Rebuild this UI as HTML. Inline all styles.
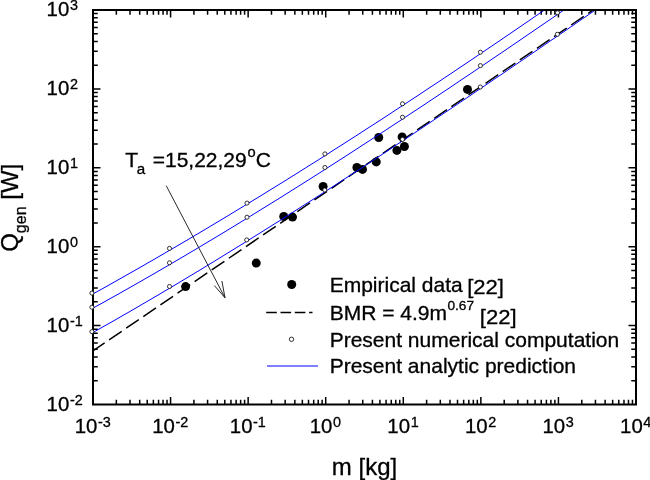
<!DOCTYPE html>
<html><head><meta charset="utf-8"><title>Q_gen vs m</title>
<style>html,body{margin:0;padding:0;background:#fff}svg{display:block;will-change:transform}text{font-family:"Liberation Sans",Arial,sans-serif;fill:#000;stroke:#000;stroke-width:0.3px}</style>
</head><body>
<svg width="650" height="480" viewBox="0 0 650 480">
<rect width="650" height="480" fill="#fff"/>
<defs><clipPath id="c"><rect x="93.00" y="10.00" width="543.00" height="394.50"/></clipPath></defs>
<path d="M116.35 404.50v-4.75M116.35 10.00v4.75M130.01 404.50v-4.75M130.01 10.00v4.75M139.70 404.50v-4.75M139.70 10.00v4.75M147.22 404.50v-4.75M147.22 10.00v4.75M153.36 404.50v-4.75M153.36 10.00v4.75M158.56 404.50v-4.75M158.56 10.00v4.75M163.05 404.50v-4.75M163.05 10.00v4.75M167.02 404.50v-4.75M167.02 10.00v4.75M170.57 404.50v-7.50M170.57 10.00v7.50M193.92 404.50v-4.75M193.92 10.00v4.75M207.58 404.50v-4.75M207.58 10.00v4.75M217.27 404.50v-4.75M217.27 10.00v4.75M224.79 404.50v-4.75M224.79 10.00v4.75M230.93 404.50v-4.75M230.93 10.00v4.75M236.13 404.50v-4.75M236.13 10.00v4.75M240.63 404.50v-4.75M240.63 10.00v4.75M244.59 404.50v-4.75M244.59 10.00v4.75M248.14 404.50v-7.50M248.14 10.00v7.50M271.49 404.50v-4.75M271.49 10.00v4.75M285.15 404.50v-4.75M285.15 10.00v4.75M294.85 404.50v-4.75M294.85 10.00v4.75M302.36 404.50v-4.75M302.36 10.00v4.75M308.51 404.50v-4.75M308.51 10.00v4.75M313.70 404.50v-4.75M313.70 10.00v4.75M318.20 404.50v-4.75M318.20 10.00v4.75M322.16 404.50v-4.75M322.16 10.00v4.75M325.71 404.50v-7.50M325.71 10.00v7.50M349.07 404.50v-4.75M349.07 10.00v4.75M362.73 404.50v-4.75M362.73 10.00v4.75M372.42 404.50v-4.75M372.42 10.00v4.75M379.93 404.50v-4.75M379.93 10.00v4.75M386.08 404.50v-4.75M386.08 10.00v4.75M391.27 404.50v-4.75M391.27 10.00v4.75M395.77 404.50v-4.75M395.77 10.00v4.75M399.74 404.50v-4.75M399.74 10.00v4.75M403.29 404.50v-7.50M403.29 10.00v7.50M426.64 404.50v-4.75M426.64 10.00v4.75M440.30 404.50v-4.75M440.30 10.00v4.75M449.99 404.50v-4.75M449.99 10.00v4.75M457.51 404.50v-4.75M457.51 10.00v4.75M463.65 404.50v-4.75M463.65 10.00v4.75M468.84 404.50v-4.75M468.84 10.00v4.75M473.34 404.50v-4.75M473.34 10.00v4.75M477.31 404.50v-4.75M477.31 10.00v4.75M480.86 404.50v-7.50M480.86 10.00v7.50M504.21 404.50v-4.75M504.21 10.00v4.75M517.87 404.50v-4.75M517.87 10.00v4.75M527.56 404.50v-4.75M527.56 10.00v4.75M535.08 404.50v-4.75M535.08 10.00v4.75M541.22 404.50v-4.75M541.22 10.00v4.75M546.41 404.50v-4.75M546.41 10.00v4.75M550.91 404.50v-4.75M550.91 10.00v4.75M554.88 404.50v-4.75M554.88 10.00v4.75M558.43 404.50v-7.50M558.43 10.00v7.50M581.78 404.50v-4.75M581.78 10.00v4.75M595.44 404.50v-4.75M595.44 10.00v4.75M605.13 404.50v-4.75M605.13 10.00v4.75M612.65 404.50v-4.75M612.65 10.00v4.75M618.79 404.50v-4.75M618.79 10.00v4.75M623.98 404.50v-4.75M623.98 10.00v4.75M628.48 404.50v-4.75M628.48 10.00v4.75M632.45 404.50v-4.75M632.45 10.00v4.75M93.00 380.75h4.75M636.00 380.75h-4.75M93.00 366.86h4.75M636.00 366.86h-4.75M93.00 357.00h4.75M636.00 357.00h-4.75M93.00 349.35h4.75M636.00 349.35h-4.75M93.00 343.10h4.75M636.00 343.10h-4.75M93.00 337.82h4.75M636.00 337.82h-4.75M93.00 333.25h4.75M636.00 333.25h-4.75M93.00 329.21h4.75M636.00 329.21h-4.75M93.00 325.60h7.50M636.00 325.60h-7.50M93.00 301.85h4.75M636.00 301.85h-4.75M93.00 287.96h4.75M636.00 287.96h-4.75M93.00 278.10h4.75M636.00 278.10h-4.75M93.00 270.45h4.75M636.00 270.45h-4.75M93.00 264.20h4.75M636.00 264.20h-4.75M93.00 258.92h4.75M636.00 258.92h-4.75M93.00 254.35h4.75M636.00 254.35h-4.75M93.00 250.31h4.75M636.00 250.31h-4.75M93.00 246.70h7.50M636.00 246.70h-7.50M93.00 222.95h4.75M636.00 222.95h-4.75M93.00 209.06h4.75M636.00 209.06h-4.75M93.00 199.20h4.75M636.00 199.20h-4.75M93.00 191.55h4.75M636.00 191.55h-4.75M93.00 185.30h4.75M636.00 185.30h-4.75M93.00 180.02h4.75M636.00 180.02h-4.75M93.00 175.45h4.75M636.00 175.45h-4.75M93.00 171.41h4.75M636.00 171.41h-4.75M93.00 167.80h7.50M636.00 167.80h-7.50M93.00 144.05h4.75M636.00 144.05h-4.75M93.00 130.16h4.75M636.00 130.16h-4.75M93.00 120.30h4.75M636.00 120.30h-4.75M93.00 112.65h4.75M636.00 112.65h-4.75M93.00 106.40h4.75M636.00 106.40h-4.75M93.00 101.12h4.75M636.00 101.12h-4.75M93.00 96.55h4.75M636.00 96.55h-4.75M93.00 92.51h4.75M636.00 92.51h-4.75M93.00 88.90h7.50M636.00 88.90h-7.50M93.00 65.15h4.75M636.00 65.15h-4.75M93.00 51.26h4.75M636.00 51.26h-4.75M93.00 41.40h4.75M636.00 41.40h-4.75M93.00 33.75h4.75M636.00 33.75h-4.75M93.00 27.50h4.75M636.00 27.50h-4.75M93.00 22.22h4.75M636.00 22.22h-4.75M93.00 17.65h4.75M636.00 17.65h-4.75M93.00 13.61h4.75M636.00 13.61h-4.75" stroke="#000" stroke-width="1.50" fill="none"/>
<g clip-path="url(#c)">
<line x1="93.00" y1="350.83" x2="598.14" y2="6.60" stroke="#000" stroke-width="1.5" stroke-dasharray="15.3 5.41" stroke-dashoffset="1.27"/>
<circle cx="185.60" cy="286.60" r="4.5" fill="#000"/>
<circle cx="256.25" cy="263.10" r="4.5" fill="#000"/>
<circle cx="283.75" cy="216.50" r="4.5" fill="#000"/>
<circle cx="292.50" cy="217.10" r="4.5" fill="#000"/>
<circle cx="323.10" cy="186.50" r="4.5" fill="#000"/>
<circle cx="356.90" cy="167.50" r="4.5" fill="#000"/>
<circle cx="362.50" cy="169.40" r="4.5" fill="#000"/>
<circle cx="376.25" cy="161.90" r="4.5" fill="#000"/>
<circle cx="378.75" cy="137.50" r="4.5" fill="#000"/>
<circle cx="396.90" cy="150.40" r="4.5" fill="#000"/>
<circle cx="404.40" cy="146.50" r="4.5" fill="#000"/>
<circle cx="402.10" cy="136.90" r="4.5" fill="#000"/>
<circle cx="467.50" cy="89.40" r="4.5" fill="#000"/>
<polyline points="93.0,293.9 99.0,290.6 105.0,287.3 111.0,283.9 117.0,280.5 123.0,277.1 129.0,273.7 135.0,270.3 141.0,266.9 147.0,263.4 153.0,260.0 159.0,256.5 165.0,253.0 171.0,249.5 177.0,246.0 183.0,242.5 189.0,239.0 195.0,235.4 201.0,231.9 207.0,228.3 213.0,224.7 219.0,221.1 225.0,217.5 231.0,213.9 237.0,210.2 243.0,206.6 249.0,202.9 255.0,199.3 261.0,195.6 267.0,191.9 273.0,188.2 279.0,184.5 285.0,180.8 291.0,177.0 297.0,173.3 303.0,169.5 309.0,165.7 315.0,162.0 321.0,158.2 327.0,154.4 333.0,150.5 339.0,146.7 345.0,142.9 351.0,139.0 357.0,135.2 363.0,131.3 369.0,127.4 375.0,123.6 381.0,119.7 387.0,115.8 393.0,111.8 399.0,107.9 405.0,104.0 411.0,100.0 417.0,96.1 423.0,92.1 429.0,88.1 435.0,84.2 441.0,80.2 447.0,76.2 453.0,72.2 459.0,68.1 465.0,64.1 471.0,60.1 477.0,56.0 483.0,52.0 489.0,47.9 495.0,43.9 501.0,39.8 507.0,35.7 513.0,31.6 519.0,27.5 525.0,23.4 531.0,19.3 537.0,15.1 543.0,11.0 549.0,6.9" fill="none" stroke="#0000ff" stroke-width="1"/>
<polyline points="93.0,308.1 99.0,304.8 105.0,301.5 111.0,298.1 117.0,294.8 123.0,291.4 129.0,288.0 135.0,284.6 141.0,281.2 147.0,277.7 153.0,274.3 159.0,270.8 165.0,267.3 171.0,263.8 177.0,260.3 183.0,256.8 189.0,253.2 195.0,249.7 201.0,246.1 207.0,242.5 213.0,238.9 219.0,235.3 225.0,231.7 231.0,228.0 237.0,224.4 243.0,220.7 249.0,217.0 255.0,213.3 261.0,209.6 267.0,205.9 273.0,202.2 279.0,198.5 285.0,194.7 291.0,190.9 297.0,187.2 303.0,183.4 309.0,179.6 315.0,175.8 321.0,172.0 327.0,168.1 333.0,164.3 339.0,160.4 345.0,156.6 351.0,152.7 357.0,148.8 363.0,144.9 369.0,141.0 375.0,137.1 381.0,133.2 387.0,129.3 393.0,125.3 399.0,121.4 405.0,117.4 411.0,113.4 417.0,109.5 423.0,105.5 429.0,101.5 435.0,97.5 441.0,93.5 447.0,89.5 453.0,85.5 459.0,81.4 465.0,77.4 471.0,73.4 477.0,69.3 483.0,65.3 489.0,61.2 495.0,57.1 501.0,53.1 507.0,49.0 513.0,44.9 519.0,40.8 525.0,36.7 531.0,32.6 537.0,28.5 543.0,24.4 549.0,20.3 555.0,16.2 561.0,12.0 567.0,7.9 573.0,3.8" fill="none" stroke="#0000ff" stroke-width="1"/>
<polyline points="93.0,332.5 99.0,329.1 105.0,325.7 111.0,322.3 117.0,318.9 123.0,315.4 129.0,312.0 135.0,308.5 141.0,305.0 147.0,301.5 153.0,298.0 159.0,294.5 165.0,290.9 171.0,287.4 177.0,283.8 183.0,280.2 189.0,276.6 195.0,273.0 201.0,269.4 207.0,265.7 213.0,262.1 219.0,258.4 225.0,254.7 231.0,251.0 237.0,247.3 243.0,243.6 249.0,239.9 255.0,236.1 261.0,232.4 267.0,228.6 273.0,224.8 279.0,221.1 285.0,217.3 291.0,213.4 297.0,209.6 303.0,205.8 309.0,202.0 315.0,198.1 321.0,194.3 327.0,190.4 333.0,186.5 339.0,182.6 345.0,178.7 351.0,174.8 357.0,170.9 363.0,167.0 369.0,163.0 375.0,159.1 381.0,155.1 387.0,151.2 393.0,147.2 399.0,143.2 405.0,139.3 411.0,135.3 417.0,131.3 423.0,127.3 429.0,123.3 435.0,119.2 441.0,115.2 447.0,111.2 453.0,107.2 459.0,103.1 465.0,99.1 471.0,95.0 477.0,90.9 483.0,86.9 489.0,82.8 495.0,78.7 501.0,74.7 507.0,70.6 513.0,66.5 519.0,62.4 525.0,58.3 531.0,54.2 537.0,50.1 543.0,46.0 549.0,41.8 555.0,37.7 561.0,33.6 567.0,29.5 573.0,25.4 579.0,21.2 585.0,17.1 591.0,13.0 597.0,8.8 603.0,4.7" fill="none" stroke="#0000ff" stroke-width="1"/>
</g>
<rect x="93.00" y="10.00" width="543.00" height="394.50" fill="none" stroke="#000" stroke-width="2"/>
<circle cx="91.9" cy="293.1" r="2.05" fill="#fff" stroke="#111" stroke-width="0.85"/>
<circle cx="169.5" cy="248.4" r="2.05" fill="#fff" stroke="#111" stroke-width="0.85"/>
<circle cx="247.0" cy="203.1" r="2.05" fill="#fff" stroke="#111" stroke-width="0.85"/>
<circle cx="324.9" cy="153.9" r="2.05" fill="#fff" stroke="#111" stroke-width="0.85"/>
<circle cx="402.5" cy="103.8" r="2.05" fill="#fff" stroke="#111" stroke-width="0.85"/>
<circle cx="480.4" cy="52.2" r="2.05" fill="#fff" stroke="#111" stroke-width="0.85"/>
<circle cx="91.9" cy="307.2" r="2.05" fill="#fff" stroke="#111" stroke-width="0.85"/>
<circle cx="169.5" cy="262.8" r="2.05" fill="#fff" stroke="#111" stroke-width="0.85"/>
<circle cx="247.0" cy="217.2" r="2.05" fill="#fff" stroke="#111" stroke-width="0.85"/>
<circle cx="324.9" cy="167.5" r="2.05" fill="#fff" stroke="#111" stroke-width="0.85"/>
<circle cx="402.5" cy="117.2" r="2.05" fill="#fff" stroke="#111" stroke-width="0.85"/>
<circle cx="480.4" cy="65.6" r="2.05" fill="#fff" stroke="#111" stroke-width="0.85"/>
<circle cx="557.5" cy="12.7" r="2.05" fill="#fff" stroke="#111" stroke-width="0.85"/>
<circle cx="91.9" cy="331.6" r="2.05" fill="#fff" stroke="#111" stroke-width="0.85"/>
<circle cx="169.5" cy="286.5" r="2.05" fill="#fff" stroke="#111" stroke-width="0.85"/>
<circle cx="246.7" cy="239.9" r="2.05" fill="#fff" stroke="#111" stroke-width="0.85"/>
<circle cx="324.8" cy="190.0" r="2.05" fill="#fff" stroke="#111" stroke-width="0.85"/>
<circle cx="402.5" cy="139.4" r="2.05" fill="#fff" stroke="#111" stroke-width="0.85"/>
<circle cx="480.3" cy="87.0" r="2.05" fill="#fff" stroke="#111" stroke-width="0.85"/>
<circle cx="557.4" cy="34.3" r="2.05" fill="#fff" stroke="#111" stroke-width="0.85"/>
<path d="M166.25 185.75L225.00 297.75M214.4 285.6L225.00 297.75L221.9 281" fill="none" stroke="#111" stroke-width="0.9"/>
<text transform="translate(125.2,167) scale(1.05,1)" font-size="20">T<tspan dy="7.3" dx="-1.1" font-size="14.5">a</tspan><tspan dy="-7.3" dx="1.5"> =15,22,29</tspan><tspan dy="-9.6" dx="0.7" font-size="14">o</tspan><tspan dy="9.6">C</tspan></text>
<text x="46.6" y="410.90" font-size="20.4">10<tspan dy="-6.1" dx="0.6" font-size="14.4">-2</tspan></text>
<text x="46.6" y="332.00" font-size="20.4">10<tspan dy="-6.1" dx="0.6" font-size="14.4">-1</tspan></text>
<text x="46.6" y="253.10" font-size="20.4">10<tspan dy="-6.1" dx="0.6" font-size="14.4">0</tspan></text>
<text x="46.6" y="174.20" font-size="20.4">10<tspan dy="-6.1" dx="0.6" font-size="14.4">1</tspan></text>
<text x="46.6" y="95.30" font-size="20.4">10<tspan dy="-6.1" dx="0.6" font-size="14.4">2</tspan></text>
<text x="46.6" y="16.40" font-size="20.4">10<tspan dy="-6.1" dx="0.6" font-size="14.4">3</tspan></text>
<text x="74.66" y="432.6" font-size="20.4">10<tspan dy="-6.1" dx="0.6" font-size="14.4">-3</tspan></text>
<text x="152.23" y="432.6" font-size="20.4">10<tspan dy="-6.1" dx="0.6" font-size="14.4">-2</tspan></text>
<text x="229.80" y="432.6" font-size="20.4">10<tspan dy="-6.1" dx="0.6" font-size="14.4">-1</tspan></text>
<text x="309.77" y="432.6" font-size="20.4">10<tspan dy="-6.1" dx="0.6" font-size="14.4">0</tspan></text>
<text x="387.35" y="432.6" font-size="20.4">10<tspan dy="-6.1" dx="0.6" font-size="14.4">1</tspan></text>
<text x="464.92" y="432.6" font-size="20.4">10<tspan dy="-6.1" dx="0.6" font-size="14.4">2</tspan></text>
<text x="542.49" y="432.6" font-size="20.4">10<tspan dy="-6.1" dx="0.6" font-size="14.4">3</tspan></text>
<text x="620.06" y="432.6" font-size="20.4">10<tspan dy="-6.1" dx="0.6" font-size="14.4">4</tspan></text>
<text x="364.5" y="474.6" font-size="24" text-anchor="middle">m [kg]</text>
<text transform="translate(18.4,251.8) rotate(-90)" font-size="24">Q<tspan dy="8" font-size="16">gen</tspan><tspan dy="-8"> [W]</tspan></text>
<circle cx="291.7" cy="284.5" r="4.5" fill="#000"/>
<line x1="266.2" y1="312.5" x2="312.5" y2="312.5" stroke="#000" stroke-width="1.5" stroke-dasharray="10.6 3.7"/>
<circle cx="291.5" cy="339.3" r="2.2" fill="#fff" stroke="#000" stroke-width="0.8"/>
<line x1="267" y1="366" x2="318" y2="366" stroke="#0000ff" stroke-width="1"/>
<text transform="translate(329.65,292.00) scale(1.051,1)" font-size="20">Empirical data<tspan dy="2.2" dx="-1.6" font-size="21"> [22]</tspan></text>
<text transform="translate(329.65,320.00) scale(1.051,1)" font-size="20">BMR = 4.9m<tspan dy="-9.8" dx="0.5" font-size="13">0.67</tspan><tspan dy="13.5" dx="-0.4" font-size="21"> [22]</tspan></text>
<text transform="translate(329.65,346.50) scale(1.051,1)" font-size="20">Present numerical computation</text>
<text transform="translate(329.65,372.50) scale(1.051,1)" font-size="20">Present analytic prediction</text>
</svg></body></html>
